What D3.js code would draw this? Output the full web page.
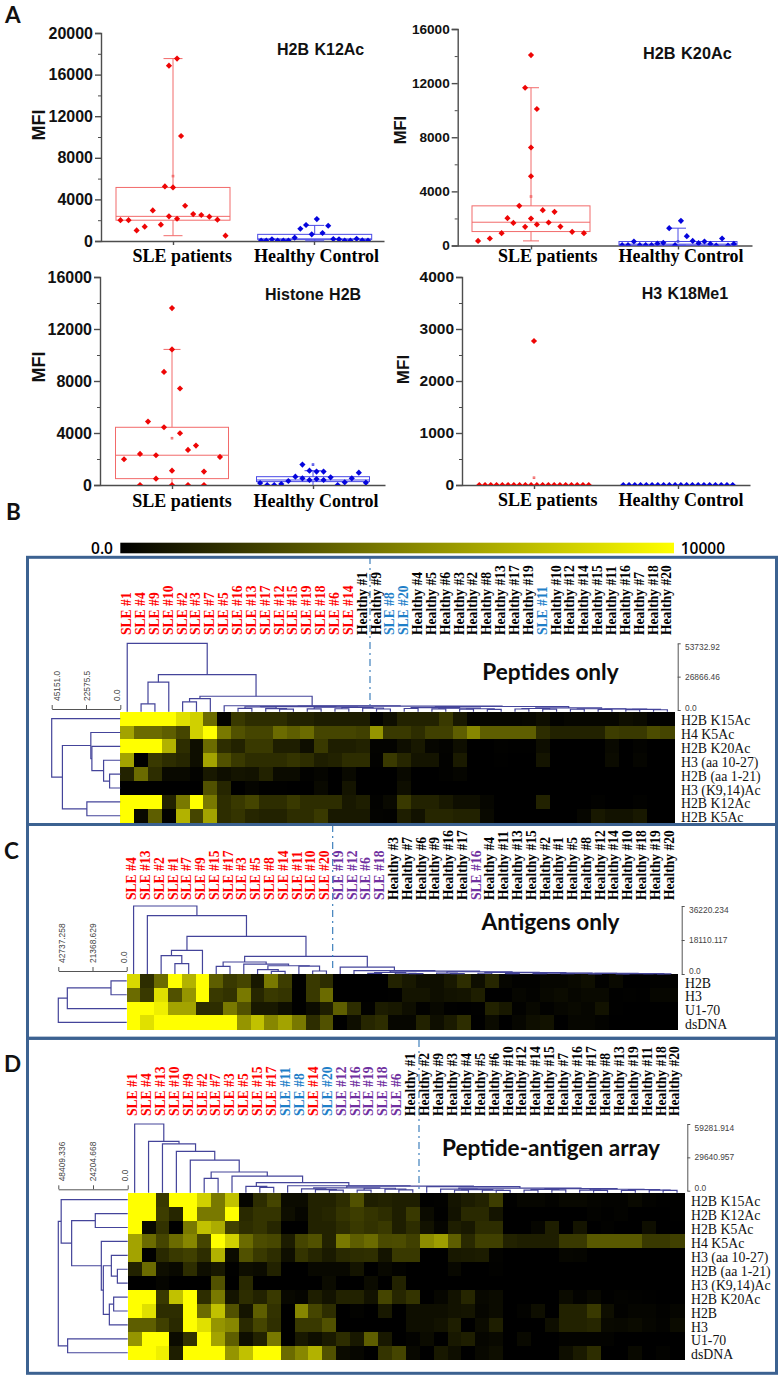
<!DOCTYPE html>
<html><head><meta charset="utf-8">
<script src="https://cdn.jsdelivr.net/npm/d3@7/dist/d3.min.js"></script>
<style>html,body{margin:0;padding:0;background:#fff}svg{display:block}</style>
</head><body><svg id="c" width="782" height="1379"></svg>
<script>
// ---------- Panel A data (values in MFI, slots = horizontal swarm position) ----------
const categories = ["SLE patients", "Healthy Control"];
const slots20 = [-9.5,-8.5,-7.5,-6.5,-5.5,-4.5,-3.5,-2.5,-1.5,-0.5,0.5,1.5,2.5,3.5,4.5,5.5,6.5,7.5,8.5,9.5];

const k12SleSlots = [-6.5,-5.5,-4.5,-3.5,-2.5,-1.5,-1,-0.5,-0.5,0,0.5,0.5,1,1.5,2.5,3.5,4.5,5.5,6.5];
const k12SleValues = [2000,2000,1020,1380,2940,1570,5250,2370,16860,5150,2140,17540,10100,3390,2590,2500,2340,2050,510];
const k12HealthySlots = [-9.3,-8.4,-7.4,-6.4,-5.4,-4.5,-3.4,-2.4,-1.4,-0.4,0.5,1.5,2.5,3.4,4.4,5.4,6.4,7.5,8.5,9.5];
const k12HealthyValues = [30,30,160,30,30,30,320,1180,1540,640,2110,770,1470,190,160,30,30,220,60,30];
const k12SleBox = [510,2000,2370,5150,17540,6240];
const k12HealthyBox = [20,160,200,640,1500,0];

const k20SleSlots = [-9,-7,-5,-4,-3,-2,-1,-1,0,0,0,0,1,1,2,3,4,5,7,9];
const k20SleValues = [340,520,910,2020,1670,2930,1380,11660,1990,5120,7240,14070,1550,10090,2610,1700,2490,1400,1010,910];
const k20HealthyValues = [25,25,295,25,25,25,150,200,1280,25,1820,690,340,170,295,120,0,520,0,120];
const k20SleBox = [340,1030,1720,2930,11660,3620];
const k20HealthyBox = [20,20,100,295,1280,300];

const h2bSleSlots = [-6,-4,-4,-3,-2,-2,-1,-1,0,0,0,0,1,1,2,2,3,4,4,6];
const h2bSleValues = [1980,2390,0,4880,2290,490,8700,4440,13610,10430,1100,0,7420,3980,2700,0,3030,1030,0,2160];
const h2bHealthySlots = [-7.5,-6.5,-5.5,-4.5,-3.5,-2.5,-1.5,-1.5,-0.5,-0.5,0.5,0.5,1.5,1.5,2.5,3.5,4.5,5.5,6.5,7.5];
const h2bHealthyValues = [150,0,0,80,310,640,510,1570,1100,385,1030,460,1030,385,590,0,205,510,950,180];
const h2bSleBox = [0,490,2290,4440,10430,3600];
const h2bHealthyBox = [0,260,385,640,1100,1570];

const k18SleSlots = slots20.concat([0]);
const k18SleValues = [0,0,0,0,0,0,0,0,0,0,0,0,0,0,0,0,0,0,0,0,2770];
const k18HealthyValues = [0,0,0,0,0,0,0,0,0,0,0,0,0,0,0,0,0,0,0,0];
const k18SleBox = [0,0,0,0,0,140];
const k18HealthyBox = [0,0,0,0,0,0];

// ---------- Heatmap data: thousands of MFI on the 0..10 colour bar ----------
const colourBar = [0, 10];
const colourTicks = ["0.0", "10000"];

const peptideCols = ["SLE #1","SLE #4","SLE #9","SLE #10","SLE #2","SLE #3","SLE #7","SLE #5","SLE #16","SLE #13","SLE #17","SLE #12","SLE #15","SLE #19","SLE #18","SLE #6","SLE #14","Healthy #1","Healthy #9","SLE #8","SLE #20","Healthy #4","Healthy #5","Healthy #6","Healthy #3","Healthy #2","Healthy #8","Healthy #13","Healthy #17","Healthy #19","SLE #11","Healthy #10","Healthy #12","Healthy #14","Healthy #15","Healthy #11","Healthy #16","Healthy #7","Healthy #18","Healthy #20"];
const peptideRows = ["H2B K15Ac","H4 K5Ac","H2B K20Ac","H3 (aa 10-27)","H2B (aa 1-21)","H3 (K9,14)Ac","H2B K12Ac","H2B K5Ac"];
const peptideMatrix = [
[10,10,10,10,9,8.5,5,0.3,3,2.5,2.5,2.5,2,2,1.7,1.7,1.7,1.7,0.3,1, 2,2,2,3,1.5,0.3,0.5,0.5,0.5,0.6,1,0.3,0.5,0.5,0.5,0.5,1,0.8,0.2,0.2],
[7,5,5,4.5,3.5,8.5,10,5.5,4,3.5,3.5,5,4.5,5,3.5,3.5,3.5,3.3,6.5,3, 3,2.5,3.3,3.3,4.5,6,4.5,4.5,4.5,4.5,2.5,2,2,2,2,3.2,3,3,3.8,3.5],
[10,10,10,7.5,2.5,1,5,2.5,2,3,3,1.8,1.8,1,3,1.8,1.8,2,0.3,0.3, 1,1.5,0.5,0.3,1,0,0,0.2,0.1,0.1,0.9,0,0,0,0,0.7,0,0.3,0,0],
[7,0,3,2.5,2.2,1,7,4,3,2.5,2.5,2.5,2.8,2.5,1.8,2,2.5,2.5,0.2,3, 2.2,1.3,1.3,0.2,1.6,0,0,0.1,0,0,1.3,0,0,0,0,0.8,0,0.4,0,0],
[2,5,2.5,0.7,0.7,0.3,1.5,1,1.3,1.2,2,0.8,0.8,0.2,0.4,0,0.7,0,0,0, 0.7,0,0,0.2,0.4,0,0,0,0,0,0,0,0,0,0,0,0,0,0,0],
[0,0,0,0,0,0,4,2.2,0,0.4,0.1,0.1,0,0,0.7,0,1.3,0,0,0, 1,0,0,0,0,0,0,0,0,0,0,0,0,0,0,0,0,0,0,0],
[10,10,10,2,5.5,10,5.5,2.5,3,3.5,2.5,2.5,3,2.5,2.5,2.5,1.5,1.8,0.2,0.7, 3,2,2,1.5,1,1,0.5,0,0,0,2,0,0,0,0.2,0,0,0.2,0,0],
[10,0.7,4.5,0.2,7.5,3.5,7,2.5,2.8,2.2,2,2,2.5,2.5,3,1.5,1.5,1.5,0.3,0.2, 1.8,1.2,2.2,2.2,2,2,0.7,0,0,0,0,0,0,0.5,1.5,1.2,1.2,1.5,0,0]
];
const pepB1 = [2700,[2500,[1300,8,9],[1100,10,[700,11,12]]],[2300,[900,13,14],[2000,[1000,15,16],[1500,17,[800,18,19]]]]];
const pepB2L = [1900,[1200,20,21],[1500,[900,22,23],[1000,[600,24,25],[500,26,27]]]];
const pepB2R = [1700,[1200,[800,28,29],[700,30,31]],[1000,[600,32,33],[800,[400,34,35],[500,[300,36,37],[200,38,39]]]]];
const peptideColTree = [53733,0,[28440,[22380,[5000,1,2],3],[11060,[9200,[6580,4,5],6],[3420,7,[3100,pepB1,[2800,pepB2L,pepB2R]]]]]];
const peptideRowTree = [45151,0,[38100,[19400,1,[18700,2,[11000,3,[7050,4,5]]]],[22000,6,7]]];
const peptideColTicks = [0,26866.46,53732.92];
const peptideRowTicks = [0,22575.5,45151];
const peptideColLabels = ["0.0","26866.46","53732.92"];
const peptideRowLabels = ["0.0","22575.5","45151.0"];

const antigenCols = ["SLE #4","SLE #13","SLE #2","SLE #1","SLE #7","SLE #9","SLE #15","SLE #17","SLE #3","SLE #5","SLE #8","SLE #14","SLE #11","SLE #10","SLE #20","SLE #19","SLE #12","SLE #6","SLE #18","Healthy #3","Healthy #7","Healthy #6","Healthy #9","Healthy #16","Healthy #17","SLE #16","Healthy #4","Healthy #11","Healthy #13","Healthy #15","Healthy #2","Healthy #1","Healthy #5","Healthy #8","Healthy #12","Healthy #14","Healthy #10","Healthy #18","Healthy #19","Healthy #20"];
const antigenRows = ["H2B","H3","U1-70","dsDNA"];
const antigenMatrix = [
[8.8,2.5,5,10,7.5,10,4.5,3,3.5,1.5,5.5,3.2,0.1,3,2.5,0,0,0,0,2, 1.5,1,1,1.5,2.5,1,2.2,0.5,0.2,0.2,0.5,0.5,0.7,1,0.2,0.7,0,0,0.2,0.2],
[5,3,9,4,6.5,10,3,2.7,5.5,2.2,3,2.8,0.1,3,5,0,0,0,0,0.1, 1.3,1.3,1,1.2,1.3,1.8,0,0,0.5,0.3,0.6,0.8,0.5,0.7,0.7,0.1,0.2,0.1,0.5,0.5],
[10,10,9.5,7,7,2.5,2.5,5.5,4,1.5,1.5,1,0.1,0.8,1.8,4.5,2.5,0.2,1.7,1.5, 1,0.2,0.6,0.1,0,0.1,2,1.5,0.2,0.6,0.2,0.5,0.7,0.5,1.2,0.1,0,0,0,0],
[10,9,10,10,10,10,10,10,6.5,8,6,7,5.5,2.5,4,0,1,2.2,2.5,0.5, 0.5,2,1,1.6,2.5,0,0.8,0,0.5,1,1.2,0,0.5,0.5,0.3,0,0,0,0,0]
];
const antTail = [1200,[500,22,[250,23,24]],[900,[400,25,26],[700,[250,27,28],[500,[200,29,30],[400,[150,31,32],[300,[120,33,34],[200,[100,35,36],[150,37,[80,38,39]]]]]]]]];
const antRight = [3700,15,[1770,16,[1500,[800,[300,17,18],[400,19,[200,20,21]]],antTail]]];
const antMid = [9400,[6400,[4080,6,7],[5300,8,[4400,[2300,9,[1400,10,11]],[4200,12,[1600,13,14]]]]],antRight];
const antigenColTree = [36220,0,[31080,1,[20070,[12600,[9770,2,[5500,3,4]],5],antMid]]];
const antigenRowTree = [42737,[37100,[9800,0,1],2],3];
const antigenColTicks = [0,18110.117,36220.234];
const antigenRowTicks = [0,21368.629,42737.258];
const antigenColLabels = ["0.0","18110.117","36220.234"];
const antigenRowLabels = ["0.0","21368.629","42737.258"];

const arrayCols = ["SLE #1","SLE #4","SLE #13","SLE #10","SLE #9","SLE #2","SLE #7","SLE #3","SLE #5","SLE #15","SLE #17","SLE #11","SLE #8","SLE #14","SLE #20","SLE #12","SLE #16","SLE #19","SLE #18","SLE #6","Healthy #1","Healthy #2","Healthy #9","Healthy #3","Healthy #4","Healthy #5","Healthy #6","Healthy #10","Healthy #12","Healthy #14","Healthy #15","Healthy #7","Healthy #16","Healthy #17","Healthy #8","Healthy #13","Healthy #19","Healthy #11","Healthy #18","Healthy #20"];
const arrayRows = ["H2B K15Ac","H2B K12Ac","H2B K5Ac","H4 K5Ac","H3 (aa 10-27)","H2B (aa 1-21)","H3 (K9,14)Ac","H2B K20Ac","H2B","H3","U1-70","dsDNA"];
const arrayMatrix = [
[10,10,3,10,10,8.5,5.5,8,0.4,2.5,3.5,0.8,0.8,2,2,2.5,4,1.8,2,1.8, 1.8,0.1,0.2,1.3,1.7,2,3.2,0.1,0.5,0.5,0.3,0.6,0.6,0.4,0.3,0.3,0.7,0.3,0.1,0.1],
[10,10,3.2,2.2,10,5.5,5.5,10,2.3,2.8,2.8,1,0.5,2,2.2,2.8,3.2,2.8,2.5,1.8, 3,0.8,0.1,1.2,2.3,2.3,1.3,0,0,0,0,0,0,0.3,0.1,0.3,0,0,0,0.1],
[10,0.7,2.7,0,5.5,8,7.3,3.3,2.5,2.8,2.2,0,0,2,2,2.5,3,2.7,3,1.8, 2.5,1.2,0.4,1.8,1.5,2.5,2.5,0,0,0.5,1.8,0,1.3,0,0.2,0,0,1,0,0],
[7,5,3.5,5,6,3.5,10,8.5,5,3.8,3.6,1.7,3.5,4,2,5.5,4.5,5,3.7,3.8, 3.3,6.2,6.8,4.5,2.3,3.3,3.3,2,1.8,1.8,1.8,3,3,4.3,4.3,4.3,4.3,3,3,3.3],
[7,0,2.3,3,3.3,2.5,7.5,0.8,4,3,2.5,1,2.8,2.2,1.6,2.3,2.5,2.6,1.3,3, 3,0,0,1.5,1.6,1.7,0.3,0,0,0,0,0.5,0.4,0,0,0,0,0,0,0],
[2,5,1,0.7,2.5,1,1.5,0.1,1,0.8,2,0,0,0.6,0.6,0.6,1.3,0,0.6,0.3, 0,0,0,0.6,0,0,0.2,0,0,0,0,0,0,0,0,0,0,0,0,0],
[0,0,0.4,0,0,0,4,0,2.3,0,0,0,0,0,0.8,0,0,0.8,0,2, 0,0,0,0,0,0,0,0,0,0,0,0,0,0,0,0,0,0,0,0],
[10,10,3,8,10,2.5,5.5,1.3,2.5,2,3,0.6,0.4,1.8,1.2,2,2,1.2,3.5,2.2, 2.8,0,0.5,1.2,2.2,0.6,0.8,0,0,0,0,0.8,0.3,0.6,0.1,0.3,0.2,0.1,0,0],
[10,9,2.5,2.5,10,5,8,4,1.3,4.5,2.7,0,6,3.5,2.5,0,0.3,0,1.5,0, 1,1,1,1.2,1.3,0.5,0.8,0,0.3,1,0,2,2,3,1,0.2,0.4,0.4,0.2,0.4],
[4.5,4.5,3.3,2.3,10,9,6.5,6,2.3,3.5,2.6,0,3,3,4,0,0,0,0,0, 1,1,1.2,1.8,0,0.8,1.8,0,0,0,1,2,2,2.2,0.7,0.6,0.8,0.5,0.3,0.8],
[6.5,10,10,0.8,2.7,10,7,4.5,1,2,5.5,0,1.5,1,1.6,2.5,1.5,4.5,1.5,0, 0.3,0.8,0,1.5,1.8,0.5,0.7,0,0.7,0,0,0.3,0.3,0.3,0.3,0,0,0,0,0],
[10,10,9.5,1.8,10,10,10,6.5,8,10,10,5,6,7.5,4,0.8,0.5,0,2.8,3.5, 0.6,0,1.5,1,0,0.6,1,0,0,0,0,1,1.6,2.5,0,0,0.7,0,0.3,0]
];
const arrA = [2500,[1700,12,[1000,13,[500,14,15]]],[2200,[600,16,17],[1400,18,[700,19,20]]]];
const arrB = [3700,21,[2300,[1400,22,[900,[400,23,24],[600,25,[300,26,27]]]],[1800,[1100,[500,28,29],[700,30,31]],[1300,[600,32,[300,33,34]],[900,[350,35,36],[500,37,[250,38,39]]]]]]];
const arrayColTree = [59282,0,[43800,1,[41700,2,[34900,3,[27200,4,[16600,[11000,5,6],[13000,7,[7100,[3900,8,[3000,9,10]],[4400,11,[4100,arrA,arrB]]]]]]]]]];
const arrayRowTree = [48409,[46400,0,[39100,[22600,1,2],[18400,3,[17000,[11400,4,[7200,5,6]],[12800,[9800,7,8],9]]]]],[41900,10,11]];
const arrayColTicks = [0,29640.957,59281.914];
const arrayRowTicks = [0,24204.668,48409.336];
const arrayColLabels = ["0.0","29640.957","59281.914"];
const arrayRowLabels = ["0.0","24204.668","48409.336"];

const blueSamples = { peptide:["SLE #8","SLE #20","SLE #11"], antigen:[], array:["SLE #11","SLE #8","SLE #20"] };
const purpleSamples = { peptide:[], antigen:["SLE #19","SLE #12","SLE #6","SLE #18","SLE #16"], array:["SLE #12","SLE #16","SLE #19","SLE #18","SLE #6"] };

// ---------- Drawing ----------
const svg = d3.select("#c");
const SERIF = "'Liberation Serif',serif", SANS = "'Liberation Sans',Arial,sans-serif", LATO = "Lato,'Open Sans',sans-serif";
const RED = "#ee0505", BLUE = "#0505dd", RED_L = "#f26a6a", BLUE_L = "#4a4ae6", AXIS = "#4d4d4d";

function txt(s, x, y, o) {
  const t = svg.append("text").attr("x", x).attr("y", y).text(s)
    .attr("font-family", o.f || SANS).attr("font-size", o.s).attr("fill", o.c || "#000");
  if (o.w) t.attr("font-weight", o.w);
  if (o.a) t.attr("text-anchor", o.a);
  if (o.r) t.attr("transform", `rotate(-90 ${x} ${y})`);
  if (o.ws) t.attr("word-spacing", o.ws);
  return t;
}

function boxPanel(id, p) {
  const y = d3.scaleLinear().domain([0, p.max]).range([p.y0, p.y1]);
  const c = d3.scaleLinear().domain([1, 2]).range([p.c1, p.c2]);
  const x = d3.scaleLinear().domain([c.invert(p.left), c.invert(p.right)]).range([p.left, p.right]);
  const g = svg.append("g");
  const left = d3.axisLeft(y).tickValues(d3.range(0, p.max + 1, p.step)).tickSize(6).tickFormat(d3.format("d"));
  const gy = g.append("g").attr("transform", `translate(${p.left},0)`).call(left);
  gy.selectAll("text").attr("font-family", SANS).attr("font-weight", "bold").attr("font-size", p.tick).attr("fill", "#111").attr("x", -8);
  const minor = d3.axisLeft(y).tickValues(d3.range(p.step / 2, p.max, p.step)).tickSize(3).tickFormat("");
  const gm = g.append("g").attr("transform", `translate(${p.left},0)`).call(minor);
  gm.select(".domain").remove();
  const bottom = d3.axisBottom(x).tickValues([1, 2]).tickSize(4).tickSizeOuter(0).tickFormat("");
  g.append("g").attr("transform", `translate(0,${p.y0})`).call(bottom);
  g.selectAll(".domain,.tick line").attr("stroke", AXIS).attr("stroke-width", 1.4);
  gm.selectAll(".tick line").attr("stroke-width", 1);

  const clip = "clip" + id;
  svg.append("clipPath").attr("id", clip).append("rect")
    .attr("x", p.left).attr("y", p.y1 - 5).attr("width", p.right - p.left).attr("height", p.y0 - p.y1 + 5);

  [[1, p.sleBox, RED_L, RED, p.sleSlots, p.sleValues, p.sleStep], [2, p.hBox, BLUE_L, BLUE, p.hSlots, p.hValues, p.hStep]].forEach(([cat, b, light, solid, slots, vals, step]) => {
    const cx = x(cat) + (cat === 2 ? p.shift : 0), hw = p.boxW / 2, cap = p.cap / 2;
    const [lo, q1, med, q3, hi, mean] = b;
    const bg = g.append("g").attr("stroke", light).attr("fill", "none").attr("stroke-width", 1);
    if (q3 > q1) {
      bg.append("rect").attr("x", cx - hw).attr("y", y(q3)).attr("width", hw * 2).attr("height", y(q1) - y(q3));
      bg.append("line").attr("x1", cx - hw).attr("x2", cx + hw).attr("y1", y(med)).attr("y2", y(med));
      bg.append("line").attr("x1", cx).attr("x2", cx).attr("y1", y(q3)).attr("y2", y(hi));
      bg.append("line").attr("x1", cx).attr("x2", cx).attr("y1", y(q1)).attr("y2", y(lo));
      bg.append("line").attr("x1", cx - cap).attr("x2", cx + cap).attr("y1", y(hi)).attr("y2", y(hi));
      if (lo > 0) bg.append("line").attr("x1", cx - cap).attr("x2", cx + cap).attr("y1", y(lo)).attr("y2", y(lo));
    }
    if (mean > 0) bg.append("rect").attr("x", x(cat) - 0.8).attr("y", y(mean) - 0.8).attr("width", 1.6).attr("height", 1.6);
    const sym = d3.symbol().type(d3.symbolSquare).size(19);
    g.append("g").attr("clip-path", `url(#${clip})`).selectAll("path").data(vals).join("path")
      .attr("d", sym).attr("fill", solid)
      .attr("transform", (v, i) => `translate(${x(cat + slots[i] * step)},${y(v)}) rotate(45)`);
  });

  txt(p.title, p.tx, p.ty, { s: p.ts || 16, w: "bold", c: "#111", ws: 1 });
  txt("MFI", p.mx, p.my, { s: p.ms, w: "bold", c: "#111", a: "middle", r: true });
  txt(categories[0], p.l1, p.ly, { f: SERIF, s: 18, w: "bold", a: "middle" });
  txt(categories[1], p.l2, p.ly, { f: SERIF, s: 18, w: "bold", a: "middle" });
}

boxPanel("a", { max:20000, step:4000, left:101, right:384, y0:241, y1:33, c1:173, c2:314, shift:0.7, boxW:114, cap:19, tick:16,
  sleSlots:k12SleSlots, sleValues:k12SleValues, sleStep:0.0573, hSlots:k12HealthySlots, hValues:k12HealthyValues, hStep:0.0403,
  sleBox:k12SleBox, hBox:k12HealthyBox, title:"H2B K12Ac", tx:277, ty:55, mx:45, my:125, ms:18, l1:182.3, l2:316.5, ly:262 });
boxPanel("b", { max:16000, step:4000, left:457.7, right:752, y0:245.5, y1:29, c1:531, c2:678, shift:0, boxW:118, cap:16, tick:13.6,
  sleSlots:k20SleSlots, sleValues:k20SleValues, sleStep:0.04, hSlots:slots20, hValues:k20HealthyValues, hStep:0.04,
  sleBox:k20SleBox, hBox:k20HealthyBox, title:"H2B K20Ac", tx:643, ty:59, ts:16.3, mx:406, my:130, ms:16.5, l1:547.7, l2:681, ly:262 });
boxPanel("c", { max:16000, step:4000, left:100, right:385, y0:485, y1:277, c1:172, c2:313, shift:0, boxW:113, cap:17, tick:16,
  sleSlots:h2bSleSlots, sleValues:h2bSleValues, sleStep:0.0567, hSlots:h2bHealthySlots, hValues:h2bHealthyValues, hStep:0.05,
  sleBox:h2bSleBox, hBox:h2bHealthyBox, title:"Histone H2B", tx:265, ty:300, mx:45, my:367, ms:18, l1:182, l2:316, ly:506.7 });
boxPanel("d", { max:4000, step:1000, left:462, right:750, y0:485, y1:277, c1:534, c2:678, shift:0, boxW:118, cap:16, tick:15.5,
  sleSlots:k18SleSlots, sleValues:k18SleValues, sleStep:0.04, hSlots:slots20, hValues:k18HealthyValues, hStep:0.04,
  sleBox:k18SleBox, hBox:k18HealthyBox, title:"H3 K18Me1", tx:641.7, ty:299.3, mx:408.7, my:369.5, ms:17, l1:547.7, l2:681, ly:505.7 });

// panel letters
[["A",5,23],["B",6,520],["C",4,859],["D",4,1071.5]].forEach(d => txt(d[0], d[1], d[2], { f: LATO, s: 22.5, w: 700, c: "#111" }));

// colour scale (cells use a slight power curve: mid tones in the source sit darker than a straight ramp)
const barColour = d3.scaleLinear().domain(colourBar).range(["#000000", "#ffff00"]);
const colour = d3.scalePow().exponent(1.25).domain(colourBar).range(["#000000", "#ffff00"]);
const grad = svg.append("defs").append("linearGradient").attr("id", "bar");
colourBar.forEach((v, i) => grad.append("stop").attr("offset", i).attr("stop-color", barColour(v)));
svg.append("rect").attr("x", 120.3).attr("y", 542.7).attr("width", 553.7).attr("height", 10.6).attr("fill", "url(#bar)");
txt(colourTicks[0], 113, 554, { f: "'Open Sans'", s: 15.5, w: 600, a: "end" });
txt(colourTicks[1], 680.7, 554, { f: "'Open Sans'", s: 15.5, w: 600 });

function drawTree(g, node, pos, h, vertical, base) {
  // returns [position along leaves, height coordinate]
  const visit = n => {
    if (typeof n === "number") return [pos(n), base];
    const a = visit(n[1]), b = visit(n[2]), hc = h(n[0]), m = (a[0] + b[0]) / 2;
    const pts = [[a[0], a[1]], [a[0], hc], [b[0], hc], [b[0], b[1]]];
    g.append("path").attr("d", d3.line().x(d => vertical ? d[0] : d[1]).y(d => vertical ? d[1] : d[0])(pts));
    return [m, hc];
  };
  visit(node);
}

function heatmap(p) {
  const x = d3.scaleBand().domain(p.cols).range([p.left, p.right]);
  const y = d3.scaleBand().domain(p.rows).range([p.top, p.bottom]);
  const g = svg.append("g").attr("shape-rendering", "crispEdges");
  p.matrix.forEach((row, r) => row.forEach((v, c) => {
    g.append("rect").attr("x", x(p.cols[c])).attr("y", y(p.rows[r])).attr("width", x.bandwidth() + 0.5).attr("height", y.bandwidth() + 0.5).attr("fill", colour(v));
  }));
  // column labels
  p.cols.forEach(l => {
    const c = l.startsWith("Healthy") ? "#000" : p.blue.includes(l) ? "#1f7fc8" : p.purple.includes(l) ? "#7030a0" : "#ff0000";
    txt(l, x(l) + x.bandwidth() / 2 + p.labShift + 4.6, p.labBase, { f: SERIF, s: 13.6, w: "bold", c, r: true });
  });
  // row labels
  p.rows.forEach(l => txt(l, p.rowX, y(l) + y.bandwidth() / 2 + 6.6, { f: SERIF, s: 13.8, c: "#111" }));
  // dendrograms
  const hCol = d3.scaleLinear().domain([0, p.colMax]).range([p.colY0, p.colY1]);
  const hRow = d3.scaleLinear().domain([0, p.rowMax]).range([p.left, p.rowX1]);
  const tg = svg.append("g").attr("fill", "none").attr("stroke", "#44449a").attr("stroke-width", 1.2);
  drawTree(tg, p.colTree, i => x(p.cols[i]) + x.bandwidth() / 2, hCol, true, p.top);
  drawTree(tg, p.rowTree, i => y(p.rows[i]) + y.bandwidth() / 2, hRow, false, p.left);
  // scale bars
  const sg = svg.append("g").attr("fill", "none").attr("stroke", "#555").attr("stroke-width", 1);
  const rAxis = d3.axisRight(hCol).tickValues(p.colTicks).tickSize(3).tickSizeOuter(0).tickFormat("");
  sg.append("g").attr("transform", `translate(${p.sx},0)`).call(rAxis);
  const lAxis = d3.axisTop(hRow).tickValues(p.rowTicks).tickSize(4).tickSizeOuter(0).tickFormat("");
  sg.append("g").attr("transform", `translate(0,${p.sy})`).call(lAxis);
  sg.selectAll(".domain,.tick line").attr("stroke", "#555");
  p.colTicks.forEach((v, i) => txt(p.colLabels[i], p.sx + 7.3, hCol(v) + p.colDy[i], { s: 8.4, c: "#444" }));
  p.rowTicks.forEach((v, i) => txt(p.rowLabels[i], hRow(v) + p.rowDx[i], p.sy - 8, { s: 8.4, c: "#444", r: true }));
  // divider
  svg.append("line").attr("x1", p.divX).attr("x2", p.divX).attr("y1", p.divY0).attr("y2", p.divY1)
    .attr("stroke", "#2e75b6").attr("stroke-width", 1.1).attr("stroke-dasharray", "7 4 2 4");
  txt(p.title, p.tx, p.ty, { f: LATO, s: p.ts, w: 700, c: "#0c0c0c", a: "middle" });
}

heatmap({ cols:peptideCols, rows:peptideRows, matrix:peptideMatrix, left:120.3, right:674.3, top:711.7, bottom:822.7,
  labShift:-0.6, labBase:635, rowX:681, colMax:53732.92, colY0:710, colY1:643.3, rowMax:45151, rowX1:51.7,
  colTree:peptideColTree, rowTree:peptideRowTree, colTicks:peptideColTicks, rowTicks:peptideRowTicks, colLabels:peptideColLabels, rowLabels:peptideRowLabels,
  sx:677.7, sy:709, colDy:[1,3,6.5], rowDx:[0,3.5,8.5], divX:370, divY0:557, divY1:705, blue:blueSamples.peptide, purple:purpleSamples.peptide,
  title:"Peptides only", tx:550.5, ty:680, ts:22.6 });
heatmap({ cols:antigenCols, rows:antigenRows, matrix:antigenMatrix, left:126.7, right:677.7, top:974, bottom:1029.3,
  labShift:-1.9, labBase:900, rowX:685, colMax:36220.234, colY0:974, colY1:906, rowMax:42737.258, rowX1:58.3,
  colTree:antigenColTree, rowTree:antigenRowTree, colTicks:antigenColTicks, rowTicks:antigenRowTicks, colLabels:antigenColLabels, rowLabels:antigenRowLabels,
  sx:681.7, sy:971, colDy:[0,3,6.5], rowDx:[0.5,3,6.5], divX:332.7, divY0:825, divY1:968, blue:blueSamples.antigen, purple:purpleSamples.antigen,
  title:"Antigens only", tx:550.5, ty:930, ts:22.6 });
heatmap({ cols:arrayCols, rows:arrayRows, matrix:arrayMatrix, left:127.7, right:684, top:1192.7, bottom:1359.7,
  labShift:-2.2, labBase:1116, rowX:691, colMax:59281.914, colY0:1190.7, colY1:1124, rowMax:48409.336, rowX1:58.3,
  colTree:arrayColTree, rowTree:arrayRowTree, colTicks:arrayColTicks, rowTicks:arrayRowTicks, colLabels:arrayColLabels, rowLabels:arrayRowLabels,
  sx:687.3, sy:1189.3, colDy:[0,3,6.5], rowDx:[0.5,3,6.5], divX:419, divY0:1040, divY1:1190, blue:blueSamples.array, purple:purpleSamples.array,
  title:"Peptide-antigen array", tx:551, ty:1156, ts:22.6 });

// frames
[[557.3,824.5],[824.5,1038.3],[1038.3,1373.3]].forEach(f => {
  svg.append("rect").attr("x", 27.5).attr("y", f[0]).attr("width", 749).attr("height", f[1] - f[0])
    .attr("fill", "none").attr("stroke", "#3c6291").attr("stroke-width", 3);
});
</script></body></html>
